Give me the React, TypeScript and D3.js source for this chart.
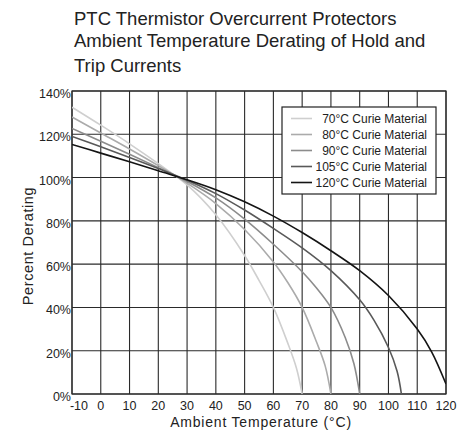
import React from "react";
import * as d3 from "d3";

const titleLines = [
  "PTC Thermistor Overcurrent Protectors",
  "Ambient Temperature Derating of Hold and",
  "Trip Currents",
];
const xTicks = [-10, 0, 10, 20, 30, 40, 50, 60, 70, 80, 90, 100, 110, 120];
const yTicks = [0, 20, 40, 60, 80, 100, 120, 140];
const seriesNames = [
  "70°C Curie Material",
  "80°C Curie Material",
  "90°C Curie Material",
  "105°C Curie Material",
  "120°C Curie Material",
];
const seriesColors = ["#cfcfcf", "#ababab", "#8c8c8c", "#595959", "#141414"];

const t70 = [-10, 0, 10, 20, 30, 40, 50, 55, 60, 65, 68, 70];
const v70 = [132.5, 124.2, 115.6, 106.4, 96.6, 82.8, 64, 52.5, 40, 23.5, 12, 0];
const t80 = [-10, 0, 10, 20, 30, 40, 50, 60, 65, 70, 75, 78, 80];
const v80 = [128, 120.6, 113.2, 105.5, 97.4, 88, 76, 61, 51.5, 40, 24, 13, 0];
const t90 = [-10, 0, 10, 20, 30, 40, 50, 60, 70, 75, 80, 85, 88, 90];
const v90 = [122.7, 116.8, 110.8, 104.6, 98.2, 90.6, 80.8, 69.2, 56.5, 49, 40, 26, 14, 0];
const t105 = [-10, 0, 10, 20, 30, 40, 50, 60, 70, 80, 90, 95, 100, 103, 104.5];
const v105 = [119, 114.2, 109.3, 104.2, 98.8, 92.6, 85, 76.5, 67.5, 57, 43.5, 34, 21.5, 10.5, 0];
const t120 = [-10, 0, 10, 20, 30, 40, 50, 60, 70, 80, 90, 100, 110, 115, 120];
const v120 = [115.3, 111.3, 107.3, 103.1, 99, 94.4, 88.8, 82.2, 74.6, 66.2, 57, 45.5, 30, 19.5, 4.6];

const seriesT = [t70, t80, t90, t105, t120];
const seriesV = [v70, v80, v90, v105, v120];

export default function App() {
  const W = 471, H = 433;
  const left = 72, right = 446, top = 91, bottom = 394;
  const x = d3.scaleLinear().domain([-10, 120]).range([left, right]);
  const y = d3.scaleLinear().domain([0, 140]).range([bottom, top]);
  const line = d3
    .line<[number, number]>()
    .x((d) => x(d[0]))
    .y((d) => y(d[1]))
    .curve(d3.curveCatmullRom.alpha(0.5));

  const font = "'Liberation Sans', Arial, Helvetica, sans-serif";
  const gridColor = "#2a2a2a";
  const legX = 282, legY = 107, legW = 154, legH = 87;

  return (
    <svg
      width={W}
      height={H}
      style={{ position: "absolute", left: 0, top: 0, background: "#fff" }}
      fontFamily={font}
    >
      <rect x={0} y={0} width={W} height={H} fill="#fff" />
      {titleLines.map((t, i) => (
        <text key={t} x={74} y={[25, 47, 72][i]} fontSize={18.5} fill="#222">
          {t}
        </text>
      ))}
      {xTicks.map((t) => (
        <line key={"gx" + t} x1={x(t)} x2={x(t)} y1={top} y2={bottom} stroke={gridColor} strokeWidth={1.1} />
      ))}
      {yTicks.map((t) => (
        <line key={"gy" + t} x1={left} x2={right} y1={y(t)} y2={y(t)} stroke={gridColor} strokeWidth={1.1} />
      ))}
      <rect x={left} y={top} width={right - left} height={bottom - top} fill="none" stroke={gridColor} strokeWidth={1.2} />
      {yTicks.map((t) => (
        <text key={"ly" + t} x={71} y={y(t) + 7} fontSize={12.5} textAnchor="end" fill="#222">
          {t + "%"}
        </text>
      ))}
      {xTicks.map((t) => (
        <text key={"lx" + t} x={x(t) + (t === -10 ? 7 : 0)} y={410} fontSize={12.5} textAnchor="middle" fill="#222">
          {t}
        </text>
      ))}
      <defs>
        <clipPath id="plotclip">
          <rect x={left} y={top} width={right - left} height={bottom - top} />
        </clipPath>
      </defs>
      <g clipPath="url(#plotclip)">
        {seriesT.map((ts, i) => {
          const pts = ts.map((t, j) => [t, seriesV[i][j]] as [number, number]);
          return (
            <path key={"s" + i} d={line(pts) || ""} fill="none" stroke={seriesColors[i]} strokeWidth={1.6} />
          );
        })}
      </g>
      <rect x={legX} y={legY} width={legW} height={legH} fill="#fff" stroke="#222" strokeWidth={1.2} />
      {seriesNames.map((n, i) => {
        const cy = legY + 11.5 + i * 16;
        return (
          <g key={n}>
            <line x1={legX + 9} x2={legX + 30} y1={cy} y2={cy} stroke={seriesColors[i]} strokeWidth={1.6} />
            <text x={legX + 145} y={cy + 4} fontSize={12} textAnchor="end" fill="#222">
              {n}
            </text>
          </g>
        );
      })}
      <text x={261} y={427} fontSize={14} letterSpacing={0.8} textAnchor="middle" fill="#222">
        Ambient Temperature (°C)
      </text>
      <text
        transform={`translate(33,246) rotate(-90)`}
        fontSize={14.5}
        letterSpacing={0.6}
        textAnchor="middle"
        fill="#222"
      >
        Percent Derating
      </text>
    </svg>
  );
}
